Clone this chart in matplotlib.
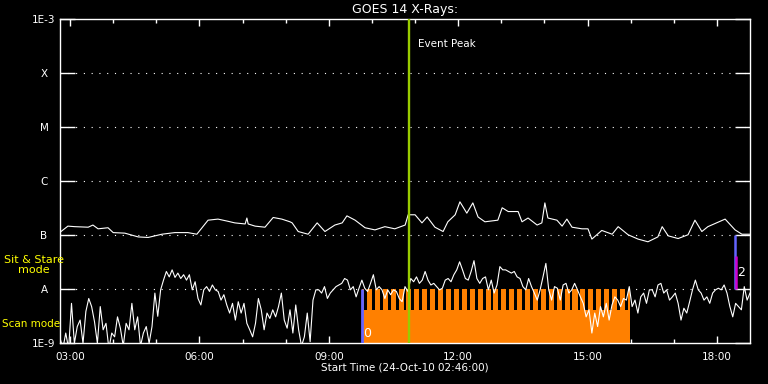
#!/usr/bin/env python3

import numpy as np
import matplotlib

matplotlib.use("Agg")
import matplotlib.pyplot as plt  # noqa: E402
from matplotlib.ticker import NullLocator  # noqa: E402


def hrs(s):
    h, m = s.split(":")
    return int(h) + int(m) / 60.0


T_START, T_END = "02:46", "18:46"
EVENT_PEAK = "10:52"
SCAN_START, SCAN_END = "09:46", "15:59"
SIT_STARE = "18:25"

# notches in the scan-mode raster bar (start times, 4 min wide)
RASTER_GAPS = ["09:49", "10:00", "10:11", "10:22", "10:33", "10:44", "10:55",
               "11:06", "11:17", "11:28", "11:39", "11:50", "12:01", "12:12",
               "12:23", "12:34", "12:45", "12:56", "13:07", "13:18", "13:29",
               "13:40", "13:51", "14:02", "14:13", "14:24", "14:35", "14:46",
               "14:57", "15:08", "15:19", "15:30", "15:41", "15:52"]
GAP_MIN = 4

# long channel (1-8 A), log10 flux, irregular samples (hours)
long_t = [2.79, 2.95, 3.11, 3.42, 3.53, 3.65, 3.88, 4.00, 4.27, 4.58, 4.81,
          5.13, 5.43, 5.73, 5.94, 6.06, 6.20, 6.43, 6.66, 6.82, 7.06, 7.10,
          7.13, 7.29, 7.52, 7.71, 7.91, 8.10, 8.15, 8.29, 8.52, 8.73, 8.91,
          9.14, 9.31, 9.42, 9.61, 9.84, 10.07, 10.30, 10.53, 10.77, 10.84,
          11.00, 11.16, 11.28, 11.46, 11.65, 11.76, 11.93, 12.04, 12.20,
          12.34, 12.46, 12.62, 12.92, 13.02, 13.16, 13.39, 13.48, 13.62,
          13.83, 13.94, 14.01, 14.08, 14.29, 14.41, 14.52, 14.64, 14.87,
          15.01, 15.10, 15.33, 15.57, 15.71, 15.94, 16.17, 16.40, 16.63,
          16.73, 16.87, 17.10, 17.33, 17.49, 17.65, 17.79, 18.19, 18.42,
          18.58, 18.77]
long_f = [-6.93, -6.83, -6.84, -6.85, -6.81, -6.88, -6.86, -6.95, -6.96, -7.03,
          -7.04, -6.98, -6.95, -6.95, -6.98, -6.86, -6.72, -6.70, -6.74, -6.77,
          -6.79, -6.68, -6.79, -6.83, -6.85, -6.67, -6.70, -6.75, -6.77, -6.93,
          -6.98, -6.77, -6.93, -6.81, -6.77, -6.64, -6.72, -6.86, -6.90, -6.84,
          -6.88, -6.81, -6.62, -6.62, -6.77, -6.66, -6.85, -6.93, -6.75, -6.62,
          -6.38, -6.59, -6.40, -6.66, -6.75, -6.72, -6.49, -6.56, -6.56, -6.75,
          -6.68, -6.81, -6.77, -6.40, -6.68, -6.72, -6.83, -6.70, -6.85, -6.88,
          -6.88, -7.07, -6.91, -6.98, -6.84, -6.99, -7.07, -7.12, -7.03, -6.84,
          -7.01, -7.06, -6.99, -6.72, -6.93, -6.84, -6.70, -6.90, -6.98, -6.98]

# short channel (0.5-4 A), log10 flux, 4-minute samples from T_START
short_f = [
    -8.90, -9.10, -8.81, -9.10, -8.26, -9.00, -8.69, -8.57, -9.00, -8.41,
    -8.17, -8.32, -8.60, -9.00, -8.32, -8.75, -8.63, -9.10, -8.81, -8.88,
    -8.51, -8.72, -9.05, -8.63, -8.75, -8.26, -8.75, -8.51, -9.05, -8.81,
    -8.69, -9.00, -8.69, -8.07, -8.50, -8.01, -7.83, -7.67, -7.77, -7.64,
    -7.78, -7.70, -7.80, -7.73, -7.83, -7.73, -8.01, -7.86, -8.17, -8.29,
    -8.01, -7.95, -8.04, -7.92, -8.01, -8.04, -8.20, -8.10, -8.29, -8.44,
    -8.26, -8.57, -8.23, -8.44, -8.26, -8.63, -8.75, -8.88, -8.63, -8.17,
    -8.38, -8.75, -8.44, -8.54, -8.38, -8.51, -8.32, -8.07, -8.57, -8.72,
    -8.38, -8.81, -8.29, -8.75, -9.05, -8.88, -8.44, -8.97, -8.20, -8.01,
    -8.01, -8.07, -7.95, -8.17, -8.07, -8.01, -7.95, -7.92, -7.89, -7.80,
    -7.83, -8.01, -7.95, -8.14, -7.98, -7.83, -7.98, -8.04, -7.89, -7.73,
    -8.01, -7.95, -8.01, -8.17, -8.01, -8.10, -8.01, -8.04, -8.17, -8.23,
    -7.95, -8.04, -7.80, -7.86, -7.77, -7.89, -7.83, -7.67, -7.83, -7.92,
    -7.89, -7.95, -8.01, -7.98, -7.83, -7.80, -7.86, -7.73, -7.64, -7.49,
    -7.64, -7.80, -7.83, -7.67, -7.47, -7.80, -7.89, -7.80, -7.77, -8.01,
    -7.83, -8.07, -7.92, -7.58, -7.64, -7.64, -7.67, -7.70, -7.67, -7.77,
    -7.80, -7.95, -8.01, -7.80, -7.95, -8.07, -8.20, -8.01, -7.77, -7.52,
    -8.01, -8.20, -7.95, -7.98, -8.20, -7.92, -7.89, -8.07, -8.01, -7.89,
    -8.01, -8.14, -8.26, -8.51, -8.38, -8.81, -8.44, -8.69, -8.32, -8.51,
    -8.26, -8.57, -8.29, -8.14, -8.20, -8.32, -8.17, -8.20, -7.95, -8.32,
    -8.20, -8.44, -8.14, -8.07, -8.26, -8.01, -8.01, -8.14, -7.92, -7.89,
    -8.07, -8.01, -8.20, -8.14, -8.07, -8.26, -8.57, -8.35, -8.44, -8.23,
    -8.01, -7.83, -8.01, -8.07, -8.20, -8.14, -8.26, -8.07, -8.01, -7.98,
    -8.01, -7.92, -8.07, -8.32, -8.51, -8.26, -8.32, -8.38, -7.95, -8.20,
    -8.07]
SHORT_STEP_MIN = 4

Y_TICKS = [1e-9, 1e-8, 1e-7, 1e-6, 1e-5, 1e-4, 1e-3]
Y_LABELS = ["1E-9", "A", "B", "C", "M", "X", "1E-3"]
X_LABELS = ["03:00", "06:00", "09:00", "12:00", "15:00", "18:00"]

ORANGE, BLUE, MAGENTA = "#ff8000", "#6464ff", "#cc00cc"
GREEN, YELLOW, FG = "#99cc00", "#ffff00", "white"
SCAN_TOP = -8.38   # solid part of the scan bar


def main():
    fig = plt.figure(figsize=(7.68, 3.84), dpi=100, facecolor="black")
    ax = fig.add_axes([60 / 768, 1 - 343.3 / 384, 690 / 768, 324 / 384])
    ax.set_facecolor("black")
    ax.set_yscale("log")
    ax.set_ylim(1e-9, 1e-3)
    t0 = hrs(T_START)
    ax.set_xlim(t0, hrs(T_END))

    for lvl in Y_TICKS[1:-1]:
        ax.axhline(lvl, color=FG, lw=0.8, ls=(0, (1, 6)), zorder=1)

    # scan mode bar with raster notches
    s0, s1 = hrs(SCAN_START), hrs(SCAN_END)
    ax.fill_between([s0, s1], 1e-9, 1e-8, color=ORANGE, lw=0, zorder=2)
    for g in RASTER_GAPS:
        g0 = hrs(g)
        ax.fill_between([g0, min(g0 + GAP_MIN / 60, s1)], 10 ** SCAN_TOP, 1e-8,
                        color="black", lw=0, zorder=2.5)
    ax.vlines(s0, 1e-9, 1e-8, color=BLUE, lw=2, zorder=4)
    ax.text(s0 + 0.03, 10 ** -8.81, "0", color=FG, fontsize=9,
            ha="left", va="center", zorder=5)

    # sit & stare marker
    ss = hrs(SIT_STARE)
    ax.vlines(ss, 1e-8, 1e-7, color=BLUE, lw=1.8, zorder=4)
    ax.vlines(ss + 0.025, 1e-8, 10 ** -7.38, color=MAGENTA, lw=1.8, zorder=4)
    ax.text(ss + 0.05, 10 ** -7.68, "2", color=FG, fontsize=9,
            ha="left", va="center", zorder=5)

    short_t = t0 + np.arange(len(short_f)) * SHORT_STEP_MIN / 60
    ax.plot(short_t, 10 ** np.array(short_f), color=FG, lw=0.8, zorder=3)
    ax.plot(long_t, 10 ** np.array(long_f), color=FG, lw=0.8, zorder=3)

    pk = hrs(EVENT_PEAK)
    ax.axvline(pk, color=GREEN, lw=1.7, zorder=4)
    ax.text(pk + 0.2, 10 ** -3.45, "Event Peak", color=FG, fontsize=7.5,
            ha="left", va="center")

    ax.set_yticks(Y_TICKS, labels=Y_LABELS)
    ax.yaxis.set_minor_locator(NullLocator())
    ax.tick_params(axis="y", direction="in", length=11, width=1,
                   left=True, right=True, colors=FG, labelsize=7.5, pad=11.5)
    for lbl in ax.get_yticklabels():
        lbl.set_horizontalalignment("center")

    ax.set_xticks([hrs(s) for s in X_LABELS], labels=X_LABELS)
    ax.set_xticks(range(3, 19), minor=True)
    ax.tick_params(axis="x", which="major", direction="in", length=5, width=1,
                   top=True, bottom=True, colors=FG, labelsize=7.5, pad=6)
    ax.tick_params(axis="x", which="minor", direction="in", length=2.6,
                   width=1, top=True, bottom=True, colors=FG)
    for sp in ax.spines.values():
        sp.set_color(FG)
        sp.set_linewidth(1)

    fig.text(405 / 768, 1 - 9 / 384, "GOES 14 X-Rays:", color=FG,
             fontsize=9, ha="center", va="center")
    fig.text(405 / 768, 1 - 368 / 384, "Start Time (24-Oct-10 02:46:00)",
             color=FG, fontsize=7.5, ha="center", va="center")
    fig.text(34 / 768, 1 - 265 / 384, "Sit & Stare\nmode", color=YELLOW,
             fontsize=8, ha="center", va="center", multialignment="center",
             linespacing=1.1)
    fig.text(2 / 768, 1 - 324 / 384, "Scan mode", color=YELLOW,
             fontsize=7.5, ha="left", va="center")

    fig.savefig("out.png", dpi=100, facecolor="black")


if __name__ == "__main__":
    main()
